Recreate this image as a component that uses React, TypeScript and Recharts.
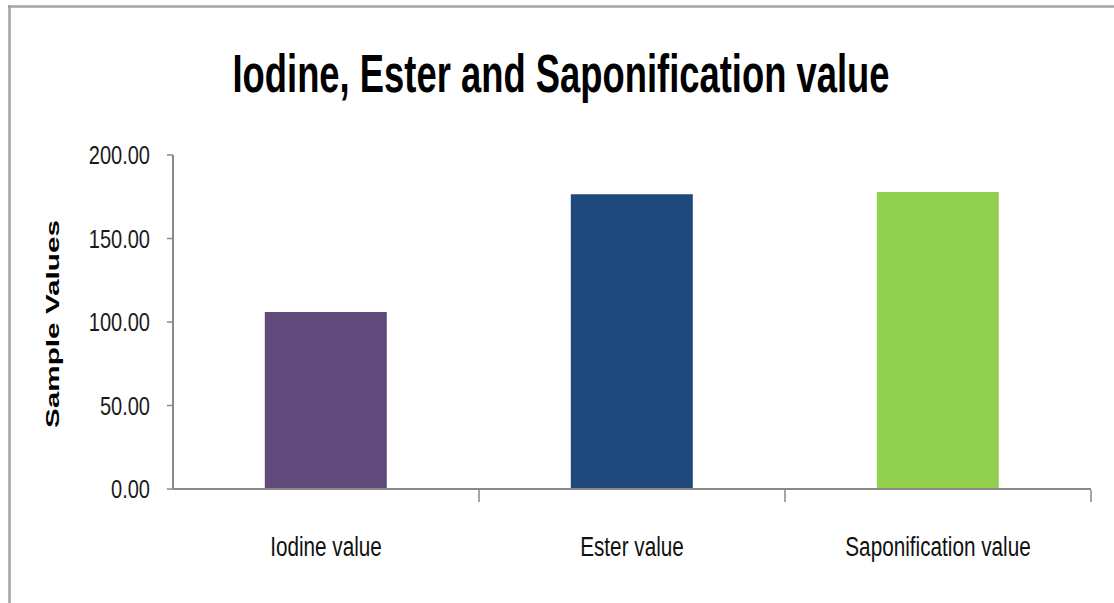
import React from "react";
import { BarChart, Bar, XAxis, YAxis, Cell } from "recharts";

const categories = ["Iodine value", "Ester value", "Saponification value"];
const values = [106.0, 176.5, 177.8];
const barColors = ["#604A7B", "#1F497D", "#92D050"];
const yTicks = [0, 50, 100, 150, 200];
const edgeTicks = [1, 2, 3];
const title = "Iodine, Ester and Saponification value";
const yLabel = "Sample Values";

const data = categories.map((c, i) => ({ name: c, value: values[i], pos: i + 0.5 }));

const FONT = "'Liberation Sans', Arial, sans-serif";
const AXIS = "#8a8a8a";

const YTick = (props: any) => {
  const { x, y, payload } = props;
  return (
    <text
      transform={`translate(${x - 15},${y + 9}) scale(0.77,1)`}
      textAnchor="end"
      fontFamily={FONT}
      fontSize={26}
      fill="#1a1a1a"
    >
      {Number(payload.value).toFixed(2)}
    </text>
  );
};

const XTick = (props: any) => {
  const { x, y, payload } = props;
  return (
    <text
      transform={`translate(${x},${y + 59}) scale(0.74,1)`}
      textAnchor="middle"
      fontFamily={FONT}
      fontSize={28}
      fill="#111"
    >
      {payload.value}
    </text>
  );
};

const EmptyTick = () => <g />;

export default function App() {
  return (
    <div style={{ position: "absolute", left: 0, top: 0, width: 1114, height: 603, background: "#fff" }}>
      <svg width={1114} height={603} style={{ position: "absolute", left: 0, top: 0 }}>
        <line x1={8} y1={6.5} x2={1114} y2={6.5} stroke="#a3a3a3" strokeWidth={2.5} />
        <line x1={9.5} y1={5} x2={9.5} y2={603} stroke="#a3a3a3" strokeWidth={2.5} />
        <text
          transform="translate(561,92) scale(0.674,1)"
          textAnchor="middle"
          fontFamily={FONT}
          fontWeight="bold"
          fontSize={54}
          fill="#000"
        >
          {title}
        </text>
        <text
          transform="translate(59,324) rotate(-90) scale(1.65,1)"
          textAnchor="middle"
          fontFamily={FONT}
          fontWeight="bold"
          fontSize={18}
          fill="#000"
        >
          {yLabel}
        </text>
      </svg>
      <div style={{ position: "absolute", left: 0, top: 0 }}>
        <BarChart
          width={1114}
          height={603}
          data={data}
          margin={{ top: 155, right: 23, left: 0, bottom: 112 }}
          barCategoryGap="30%"
        >
          <XAxis
            dataKey="name"
            height={1}
            tickLine={false}
            axisLine={{ stroke: AXIS, strokeWidth: 2 }}
            tick={<XTick />}
            interval={0}
          />
          <XAxis
            xAxisId="edges"
            type="number"
            dataKey="pos"
            domain={[0, 3]}
            ticks={edgeTicks}
            allowDataOverflow
            height={1}
            axisLine={false}
            tick={<EmptyTick />}
            tickSize={12}
            tickLine={{ stroke: AXIS, strokeWidth: 1.5 }}
          />
          <YAxis
            width={173}
            domain={[0, 200]}
            ticks={yTicks}
            tickSize={6}
            axisLine={{ stroke: AXIS, strokeWidth: 2 }}
            tickLine={{ stroke: AXIS, strokeWidth: 1.5 }}
            tick={<YTick />}
          />
          <Bar dataKey="value" isAnimationActive={false}>
            {data.map((d, i) => (
              <Cell key={d.name} fill={barColors[i]} />
            ))}
          </Bar>
        </BarChart>
      </div>
    </div>
  );
}
